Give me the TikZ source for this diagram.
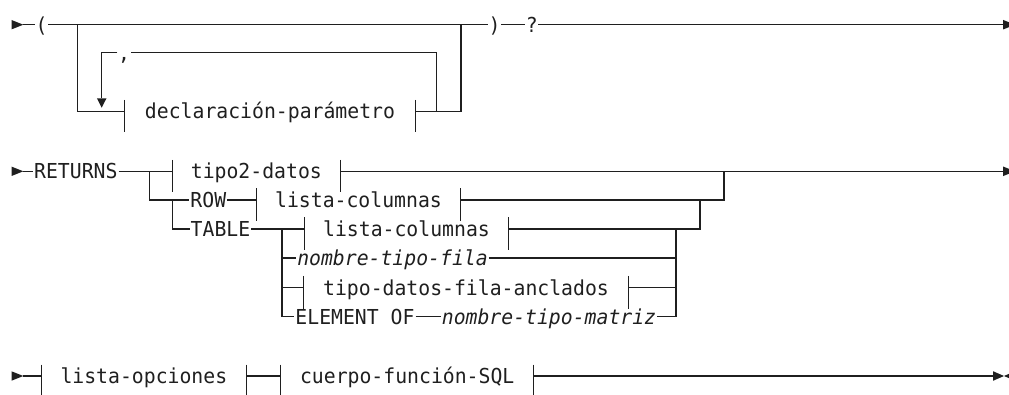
\documentclass[tikz,border=0pt]{standalone}
\usepackage{fontspec}
\newfontfamily\dmono[FakeStretch=0.96]{DejaVu Sans Mono}
\newcommand\rrbars[1]{%
  \draw ([yshift=11.5pt]#1.west) -- ([yshift=-21pt]#1.west);
  \draw ([yshift=11.5pt]#1.east) -- ([yshift=-21pt]#1.east);}
\begin{document}
\begin{tikzpicture}[x=1pt,y=-1pt,
  line width=1.1pt, draw=black!88,
  lbl/.style={font=\dmono\fontsize{20.6}{24}\selectfont, text=black!88,
    inner xsep=0.5pt, inner ysep=0pt, text height=15.2pt, text depth=0pt},
  itl/.style={lbl, font=\dmono\itshape\fontsize{20.6}{24}\selectfont},
  boxn/.style={lbl, inner xsep=0pt, minimum width=#1},
  tip/.style={fill=black!88, draw=none}]
\useasboundingbox (0,0) rectangle (1009,395);
\clip (0,0) rectangle (1009,395);

% ---------------- Row 1 ----------------
\coordinate (s1) at (23.3,24.7);
\fill[tip] (11.5,20) -- (s1) -- (11.5,29.4) -- cycle;
\node[lbl, inner xsep=0pt] (lp) at (41.7,24.7) {(};
\node[lbl, inner xsep=0pt] (rp) at (494.5,24.7) {)};
\node[lbl, inner xsep=0pt] (q) at (531.7,24.7) {?};
\node[lbl, inner xsep=0pt] (comma) at (124,52.5) {,};
\node[boxn=290] (decl) at (270,111.3) {declaración-parámetro};
\rrbars{decl}
\coordinate (j1a) at (77.7,24.7);
\coordinate (j1b) at (461,24.7);
\coordinate (lr) at (436.7,111.3);
\coordinate (ll) at (101.7,98.3);
\coordinate (e1) at (1003,24.7);
\draw (s1) -- (lp.west);
\draw (lp.east) -- (rp.west);
\draw (rp.east) -- (q.west);
\draw (q.east) -- (e1);
\fill[tip] (e1) ++(0,-4.8) -- ++(12,4.8) -- ++(-12,4.8) -- cycle;
\draw (j1a) |- (decl.west);
\draw (decl.east) -| (j1b);
\draw (lr) |- (comma.east);
\draw (comma.west) -| (ll);
\fill[tip] (96.9,98.3) -- (106.5,98.3) -- (101.7,107.7) -- cycle;

% ---------------- Row 2 ----------------
\coordinate (s2) at (23.3,171.3);
\fill[tip] (11.5,166.6) -- (s2) -- (11.5,176) -- cycle;
\node[lbl] (ret) at (75.85,171.3) {RETURNS};
\node[boxn=167.3] (tipo2) at (256.35,171.3) {tipo2-datos};
\rrbars{tipo2}
\node[lbl] (row) at (208.3,200) {ROW};
\node[boxn=203] (rowlc) at (358.5,200) {lista-columnas};
\rrbars{rowlc}
\node[lbl] (table) at (220.5,229) {TABLE};
\node[boxn=203] (tablc) at (406.5,229) {lista-columnas};
\rrbars{tablc}
\node[itl] (ntf) at (392.5,258) {nombre-tipo-fila};
\node[boxn=324] (anc) at (466,287.5) {tipo-datos-fila-anclados};
\rrbars{anc}
\node[lbl] (elem) at (355,316.5) {ELEMENT OF};
\node[itl] (ntm) at (549,316.5) {nombre-tipo-matriz};
\coordinate (j2a) at (149.3,171.3);
\coordinate (j2b) at (172.7,200);
\coordinate (j2c) at (724,171.3);
\coordinate (j2d) at (700,200);
\coordinate (j2e) at (282,229);
\coordinate (j2f) at (676,229);
\coordinate (e2) at (1003,171.3);
\draw (s2) -- (ret.west);
\draw (ret.east) -- (tipo2.west);
\draw (tipo2.east) -- (e2);
\fill[tip] (e2) ++(0,-4.8) -- ++(12,4.8) -- ++(-12,4.8) -- cycle;
\draw (j2a) |- (row.west);
\draw (row.east) -- (rowlc.west);
\draw (rowlc.east) -| (j2c);
\draw (j2b) |- (table.west);
\draw (table.east) -- (tablc.west);
\draw (tablc.east) -| (j2d);
\draw (j2e) |- (elem.west);
\draw (j2e |- ntf.west) -- (ntf.west);
\draw (j2e |- anc.west) -- (anc.west);
\draw (elem.east) -- (ntm.west);
\draw (ntm.east) -| (j2f);
\draw (ntf.east) -- (ntf.east -| j2f);
\draw (anc.east) -- (anc.east -| j2f);

% ---------------- Row 3 ----------------
\coordinate (s3) at (23.3,376);
\fill[tip] (11.5,371.3) -- (s3) -- (11.5,380.7) -- cycle;
\node[boxn=203.7] (lo) at (143.85,376) {lista-opciones};
\rrbars{lo}
\node[boxn=251.6] (cf) at (407.2,376) {cuerpo-función-SQL};
\rrbars{cf}
\coordinate (e3) at (993,376);
\draw (s3) -- (lo.west);
\draw (lo.east) -- (cf.west);
\draw (cf.east) -- (e3);
\fill[tip] (e3) ++(0,-4.8) -- ++(11,4.8) -- ++(-11,4.8) -- cycle;
\fill[tip] (1004,376) -- ++(11,-4.8) -- ++(0,9.6) -- cycle;
\end{tikzpicture}
\end{document}
